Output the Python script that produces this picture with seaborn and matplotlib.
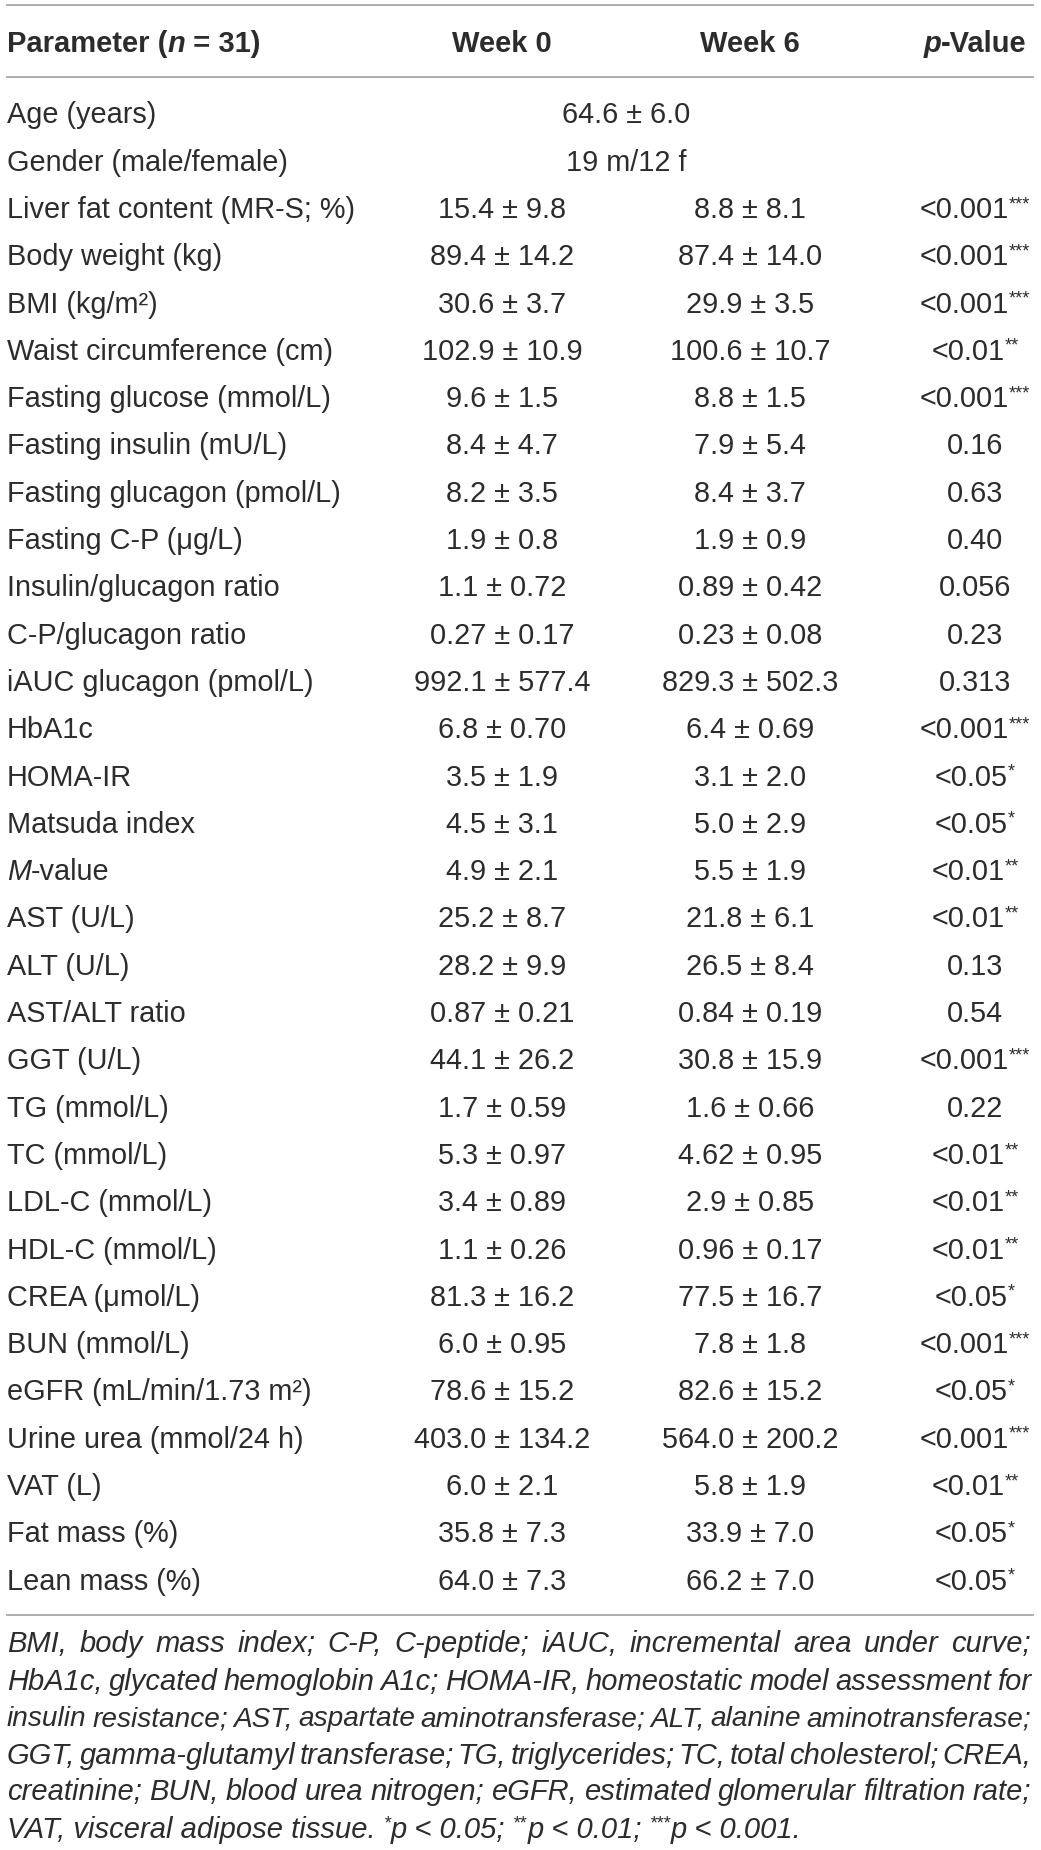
import numpy as np
import pandas as pd
import matplotlib.pyplot as plt
import seaborn as sns

sns.set_theme(style="white")
plt.rcParams["font.family"] = ["Liberation Sans", "DejaVu Sans"]

W, H = 1041, 1850
INK = "#2c2c2c"
RULE = "#a8a8a8"

# ---- table data ----
headers = ["Parameter (_n_ = 31)", "Week 0", "Week 6", "_p_-Value"]
params = [
    "Age (years)", "Gender (male/female)", "Liver fat content (MR-S; %)",
    "Body weight (kg)", "BMI (kg/m\u00b2)", "Waist circumference (cm)",
    "Fasting glucose (mmol/L)", "Fasting insulin (mU/L)", "Fasting glucagon (pmol/L)",
    "Fasting C-P (\u03bcg/L)", "Insulin/glucagon ratio", "C-P/glucagon ratio",
    "iAUC glucagon (pmol/L)", "HbA1c", "HOMA-IR", "Matsuda index", "_M_-value",
    "AST (U/L)", "ALT (U/L)", "AST/ALT ratio", "GGT (U/L)", "TG (mmol/L)",
    "TC (mmol/L)", "LDL-C (mmol/L)", "HDL-C (mmol/L)", "CREA (\u03bcmol/L)",
    "BUN (mmol/L)", "eGFR (mL/min/1.73 m\u00b2)", "Urine urea (mmol/24 h)",
    "VAT (L)", "Fat mass (%)", "Lean mass (%)",
]
week0 = [
    "64.6 \u00b1 6.0", "19 m/12 f", "15.4 \u00b1 9.8", "89.4 \u00b1 14.2", "30.6 \u00b1 3.7",
    "102.9 \u00b1 10.9", "9.6 \u00b1 1.5", "8.4 \u00b1 4.7", "8.2 \u00b1 3.5", "1.9 \u00b1 0.8",
    "1.1 \u00b1 0.72", "0.27 \u00b1 0.17", "992.1 \u00b1 577.4", "6.8 \u00b1 0.70",
    "3.5 \u00b1 1.9", "4.5 \u00b1 3.1", "4.9 \u00b1 2.1", "25.2 \u00b1 8.7", "28.2 \u00b1 9.9",
    "0.87 \u00b1 0.21", "44.1 \u00b1 26.2", "1.7 \u00b1 0.59", "5.3 \u00b1 0.97",
    "3.4 \u00b1 0.89", "1.1 \u00b1 0.26", "81.3 \u00b1 16.2", "6.0 \u00b1 0.95",
    "78.6 \u00b1 15.2", "403.0 \u00b1 134.2", "6.0 \u00b1 2.1", "35.8 \u00b1 7.3", "64.0 \u00b1 7.3",
]
week6 = [
    None, None, "8.8 \u00b1 8.1", "87.4 \u00b1 14.0", "29.9 \u00b1 3.5", "100.6 \u00b1 10.7",
    "8.8 \u00b1 1.5", "7.9 \u00b1 5.4", "8.4 \u00b1 3.7", "1.9 \u00b1 0.9", "0.89 \u00b1 0.42",
    "0.23 \u00b1 0.08", "829.3 \u00b1 502.3", "6.4 \u00b1 0.69", "3.1 \u00b1 2.0",
    "5.0 \u00b1 2.9", "5.5 \u00b1 1.9", "21.8 \u00b1 6.1", "26.5 \u00b1 8.4", "0.84 \u00b1 0.19",
    "30.8 \u00b1 15.9", "1.6 \u00b1 0.66", "4.62 \u00b1 0.95", "2.9 \u00b1 0.85",
    "0.96 \u00b1 0.17", "77.5 \u00b1 16.7", "7.8 \u00b1 1.8", "82.6 \u00b1 15.2",
    "564.0 \u00b1 200.2", "5.8 \u00b1 1.9", "33.9 \u00b1 7.0", "66.2 \u00b1 7.0",
]
pvals = [
    "", "", "<0.001", "<0.001", "<0.001", "<0.01", "<0.001", "0.16", "0.63", "0.40",
    "0.056", "0.23", "0.313", "<0.001", "<0.05", "<0.05", "<0.01", "<0.01", "0.13",
    "0.54", "<0.001", "0.22", "<0.01", "<0.01", "<0.01", "<0.05", "<0.001", "<0.05",
    "<0.001", "<0.01", "<0.05", "<0.05",
]
stars = [
    "", "", "***", "***", "***", "**", "***", "", "", "", "", "", "", "***", "*", "*",
    "**", "**", "", "", "***", "", "**", "**", "**", "*", "***", "*", "***", "**", "*", "*",
]
footnote = [
    "BMI, body mass index; C-P, C-peptide; iAUC, incremental area under curve;",
    "HbA1c, glycated hemoglobin A1c; HOMA-IR, homeostatic model assessment for",
    "insulin resistance; AST, aspartate aminotransferase; ALT, alanine aminotransferase;",
    "GGT, gamma-glutamyl transferase; TG, triglycerides; TC, total cholesterol; CREA,",
    "creatinine; BUN, blood urea nitrogen; eGFR, estimated glomerular filtration rate;",
    "VAT, visceral adipose tissue. ^*^p < 0.05; ^**^p < 0.01; ^***^p < 0.001.",
]

df = pd.DataFrame({"param": params, "week0": week0, "week6": week6,
                   "p": pvals, "stars": stars})

# ---- layout (pixels) ----
X_LEFT, X_RIGHT = 7, 1031
COL_W0, COL_W6, COL_P, COL_MERGED = 502, 750, 975, 626
Y_HEAD = 42
Y_ROW0, ROW_H = 113, 47.3
Y_FOOT0, FOOT_H = 1642, 37.0
RULES = [5, 77, 1615]
FS, FS_HEAD, FS_FOOT, FS_SUP = 20.8, 21, 21, 13

fig = plt.figure(figsize=(W / 100, H / 100), dpi=100)
ax = fig.add_axes([0, 0, 1, 1])
ax.set_xlim(0, W)
ax.set_ylim(H, 0)
ax.axis("off")
renderer = fig.canvas.get_renderer()


def measure(s, **kw):
    t = ax.text(0, 0, s, **kw)
    w = t.get_window_extent(renderer).width
    t.remove()
    return w


def parse(s, base):
    """split into runs: _x_ italic, ^x^ superscript"""
    runs = []
    mode = None
    buf = ""
    for ch in s:
        if ch in "_^":
            if buf:
                runs.append((buf, mode))
            buf = ""
            mode = None if mode == ch else ch
        else:
            buf += ch
    if buf:
        runs.append((buf, mode))
    out = []
    for txt, m in runs:
        kw = dict(base)
        dy = 0
        if m == "_":
            kw["fontstyle"] = "italic"
        elif m == "^":
            kw["fontsize"] = FS_SUP
            dy = -9
        out.append((txt, kw, dy))
    return out


def draw_runs(x, yc, s, base, ha="left"):
    runs = parse(s, base)
    size_px = base["fontsize"] * 100 / 72
    yb = yc + 0.36 * size_px
    widths = [measure(t, **kw) for t, kw, _ in runs]
    total = sum(widths)
    if ha == "center":
        x = x - total / 2
    elif ha == "right":
        x = x - total
    for (t, kw, dy), w in zip(runs, widths):
        ax.text(x, yb + dy, t, va="baseline", ha="left", color=INK, **kw)
        x += w


body = dict(fontsize=FS)
bold = dict(fontsize=FS_HEAD, fontweight="bold")
foot = dict(fontsize=FS_FOOT, fontstyle="italic")

ax.hlines(RULES, 6, 1034, color=RULE, lw=1.3)

# header
draw_runs(X_LEFT, Y_HEAD, headers[0], bold)
draw_runs(COL_W0, Y_HEAD, headers[1], bold, ha="center")
draw_runs(COL_W6, Y_HEAD, headers[2], bold, ha="center")
draw_runs(COL_P, Y_HEAD, headers[3], bold, ha="center")

# rows
for i, row in df.iterrows():
    y = Y_ROW0 + i * ROW_H
    draw_runs(X_LEFT, y, row["param"], body)
    if row["week6"] is None:
        draw_runs(COL_MERGED, y, row["week0"], body, ha="center")
    else:
        draw_runs(COL_W0, y, row["week0"], body, ha="center")
        draw_runs(COL_W6, y, row["week6"], body, ha="center")
    if row["p"]:
        s = row["p"] + ("^" + row["stars"] + "^" if row["stars"] else "")
        draw_runs(COL_P, y, s, body, ha="center")

# footnote, justified except the last line
for k, line in enumerate(footnote):
    y = Y_FOOT0 + k * FOOT_H
    if k == len(footnote) - 1:
        draw_runs(X_LEFT, y, line, foot)
        continue
    words = line.split(" ")
    kw = dict(foot)
    ws = [measure(wd, **kw) for wd in words]
    # shrink slightly if a line would not fit with a minimal word gap
    while X_RIGHT - X_LEFT - sum(ws) < 4 * (len(words) - 1):
        kw["fontsize"] -= 0.2
        ws = [measure(wd, **kw) for wd in words]
    gap = (X_RIGHT - X_LEFT - sum(ws)) / (len(words) - 1)
    x = X_LEFT
    yb = y + 0.36 * FS_FOOT * 100 / 72
    for wd, w in zip(words, ws):
        ax.text(x, yb, wd, va="baseline", ha="left", color=INK, **kw)
        x += w + gap

fig.savefig("out.png", dpi=100)
